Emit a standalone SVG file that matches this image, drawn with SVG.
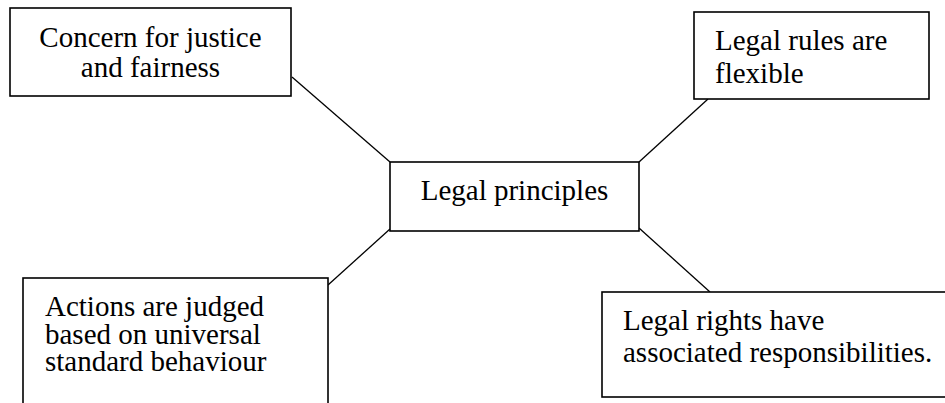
<svg xmlns="http://www.w3.org/2000/svg" width="945" height="403" viewBox="0 0 945 403">
<style>
.box{fill:#fff;stroke:#000;stroke-width:1.6}
.t{font-family:'Liberation Serif',Tinos,'Times New Roman','DejaVu Serif',serif;font-size:29px;fill:#000}
.c{stroke:#000;stroke-width:1.3;fill:none}
</style>
<rect width="945" height="403" fill="#fff"/>
<g id="connectors">
<line class="c" x1="292" y1="77" x2="390" y2="162"/>
<line class="c" x1="639" y1="162" x2="708" y2="99"/>
<line class="c" x1="390" y1="229" x2="328" y2="285"/>
<line class="c" x1="639" y1="228" x2="710" y2="292"/>
</g>
<g id="n-justice">
<rect class="box" x="10" y="8" width="281" height="88"/>
<text class="t" font-family="Liberation Serif" x="150.5" y="47" text-anchor="middle">Concern for justice</text>
<text class="t" font-family="Liberation Serif" x="150.5" y="77" text-anchor="middle">and fairness</text>
</g>
<g id="n-flexible">
<rect class="box" x="694" y="12" width="235" height="87"/>
<text class="t" x="715" y="49.5">Legal rules are</text>
<text class="t" x="715" y="82.5">flexible</text>
</g>
<g id="n-center">
<rect class="box" x="390" y="162" width="249" height="69"/>
<text class="t" x="514.5" y="199.5" text-anchor="middle">Legal principles</text>
</g>
<g id="n-actions">
<rect class="box" x="23" y="278" width="305" height="140"/>
<text class="t" x="45" y="316">Actions are judged</text>
<text class="t" x="45" y="343.5">based on universal</text>
<text class="t" x="45" y="371">standard behaviour</text>
</g>
<g id="n-rights">
<rect class="box" x="602" y="292" width="360" height="105"/>
<text class="t" x="623" y="329.5">Legal rights have</text>
<text class="t" x="623" y="361.5">associated responsibilities.</text>
</g>
</svg>
